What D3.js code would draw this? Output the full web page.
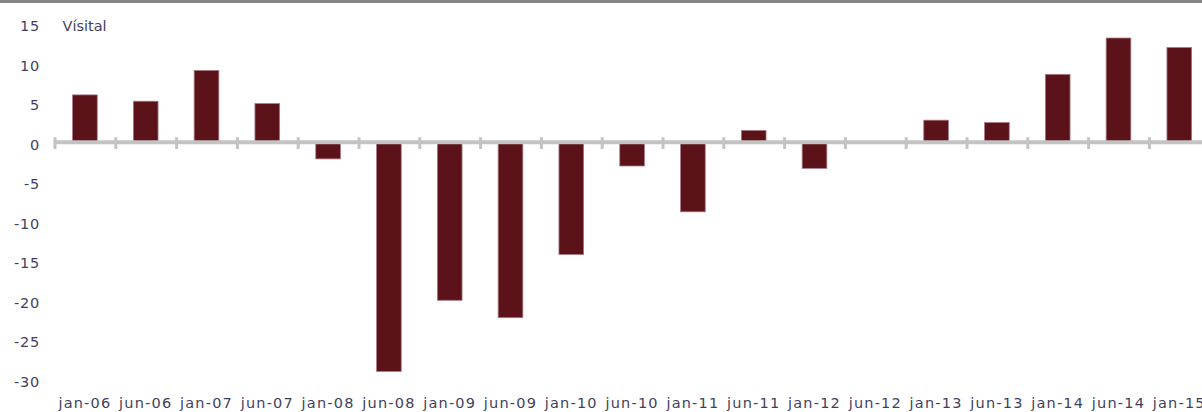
<!DOCTYPE html>
<html>
<head>
<meta charset="utf-8">
<script src="https://cdn.jsdelivr.net/npm/d3@7"></script>
<style>
  html, body { margin: 0; padding: 0; background: #fff; }
  svg { display: block; }
  text { font-family: "DejaVu Sans", Verdana, sans-serif; fill: #3f3f5e; }
</style>
</head>
<body>
<svg id="chart" width="1202" height="412"></svg>
<script>
const categories = ["jan-06","jun-06","jan-07","jun-07","jan-08","jun-08","jan-09","jun-09","jan-10","jun-10","jan-11","jun-11","jan-12","jun-12","jan-13","jun-13","jan-14","jun-14","jan-15"];
const values = [6.0, 5.2, 9.1, 4.9, -2.1, -29.0, -20.0, -22.2, -14.2, -3.0, -8.8, 1.5, -3.3, 0, 2.8, 2.5, 8.6, 13.2, 12.0];
const yTicks = [15, 10, 5, 0, -5, -10, -15, -20, -25, -30];
const yTitle = "Vísital";

const W = 1202, H = 412;
const svg = d3.select("#chart");

const x0 = 54.5, step = 60.8;
const x = d3.scaleBand().domain(categories).range([x0, x0 + step * categories.length]).padding(0);
const xIdx = d3.scaleLinear().domain([0, categories.length]).range([x0, x0 + step * categories.length]);
const y = d3.scaleLinear().domain([-30, 15]).range([142.3 + 30 * 7.9, 142.3 - 15 * 7.9]);

// top grey band
svg.append("rect").attr("x", 0).attr("y", 0).attr("width", W).attr("height", 3).attr("fill", "#858585");

// bars
const barFrac = 0.406;
const bw = x.bandwidth() * barFrac;
svg.append("g").selectAll("rect").data(categories.map((c, i) => ({c, v: values[i]})).filter(d => d.v !== 0))
  .join("rect")
  .attr("x", d => x(d.c) + (x.bandwidth() - bw) / 2)
  .attr("width", bw)
  .attr("y", d => y(Math.max(0, d.v)))
  .attr("height", d => Math.abs(y(d.v) - y(0)))
  .attr("fill", "#5b1219")
  .attr("stroke", "#a87a80")
  .attr("stroke-width", 0.8);

// zero axis line with ticks at category boundaries
const axisG = svg.append("g").attr("transform", `translate(0,${y(0)})`)
  .call(d3.axisBottom(xIdx).tickValues(d3.range(0, categories.length + 1)).tickSize(0).tickFormat(""));
axisG.select(".domain").remove();
axisG.append("line").attr("x1", x0).attr("x2", W).attr("y1", 0).attr("y2", 0)
  .attr("stroke", "#c3c3c3").attr("stroke-width", 4);
axisG.selectAll(".tick").append("line").attr("y1", -5).attr("y2", 6.7)
  .attr("stroke", "#c3c3c3").attr("stroke-width", 3);

// category labels
const xl = svg.append("g")
  .call(d3.axisBottom(x).tickSize(0).tickPadding(0));
xl.select(".domain").remove();
xl.selectAll("text").attr("y", 408).attr("dy", null).attr("font-size", 14.5)
  .attr("letter-spacing", 1.2).style("fill", "#3f3f5e");

// y labels
const yl = svg.append("g").attr("transform", "translate(40,0)")
  .call(d3.axisLeft(y).tickValues(yTicks).tickSize(0).tickPadding(0).tickFormat(d3.format("d")));
yl.select(".domain").remove();
yl.selectAll("text").attr("dy", "0.35em").attr("y", 2).attr("font-size", 14.5)
  .attr("letter-spacing", 0.8).style("fill", "#3f3f5e")
  .text(d => d < 0 ? "-" + Math.abs(d) : d);

// axis title
svg.append("text").attr("x", 62.5).attr("y", 26).attr("dy", "0.35em").attr("font-size", 14.5).text(yTitle);
</script>
</body>
</html>
